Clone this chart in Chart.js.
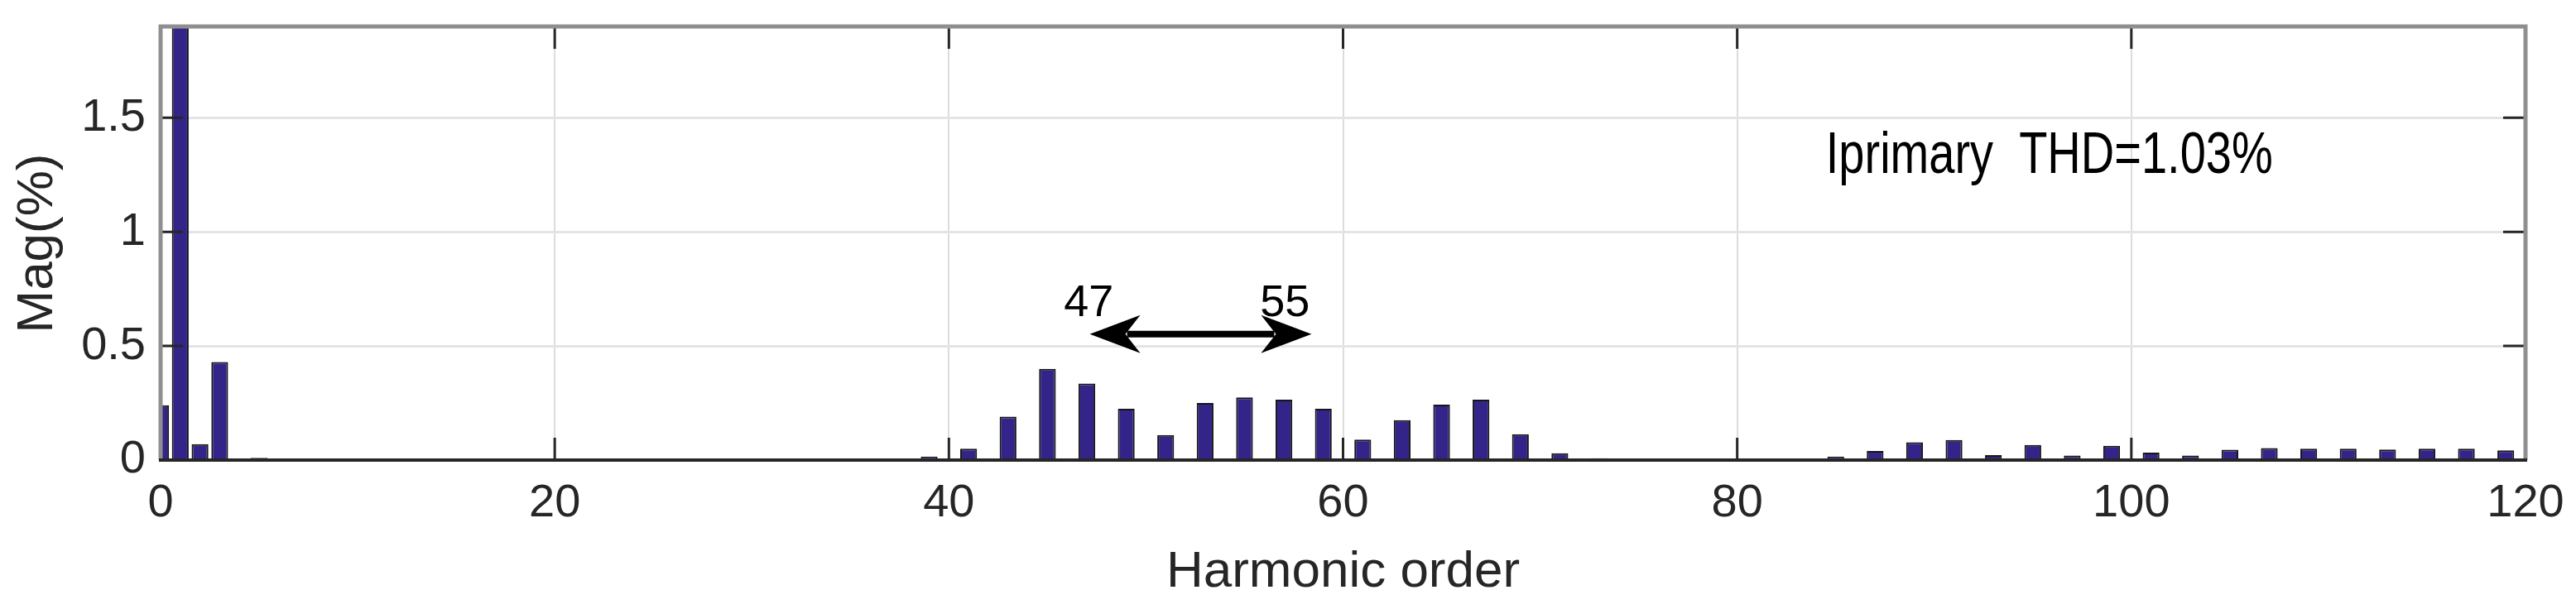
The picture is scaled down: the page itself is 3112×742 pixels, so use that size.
<!DOCTYPE html>
<html>
<head>
<meta charset="utf-8">
<script src="https://cdn.jsdelivr.net/npm/chart.js@4.4.1/dist/chart.umd.min.js"></script>
<style>
  html, body { margin: 0; padding: 0; background: #fff; }
  #chart { display: block; }
</style>
</head>
<body>
<canvas id="chart" width="3112" height="742"></canvas>
<script>
// harmonic spectrum of the primary current, Mag in % of fundamental
const xTicks = [0, 20, 40, 60, 80, 100, 120];
const yTicks = [0, 0.5, 1, 1.5];
const yMax = 1.9;

// index = harmonic order (0 .. 120)
const magnitudes = [
  0.24, 100, 0.07, 0.43, 0.006, 0.01, 0.005, 0.003, 0.002, 0.003,
  0.002, 0.003, 0.001, 0.003, 0.001, 0.003, 0.001, 0.003, 0.001, 0.003,
  0.001, 0.003, 0.001, 0.003, 0.001, 0.003, 0.001, 0.003, 0.001, 0.003,
  0.001, 0.003, 0.001, 0.003, 0.001, 0.003, 0.001, 0.003, 0.001, 0.015,
  0.002, 0.05, 0.001, 0.19, 0.001, 0.40, 0.001, 0.335, 0.001, 0.225,
  0.001, 0.11, 0.001, 0.25, 0.001, 0.275, 0.001, 0.265, 0.001, 0.225,
  0.001, 0.09, 0.001, 0.175, 0.001, 0.243, 0.001, 0.265, 0.001, 0.113,
  0.001, 0.03, 0.001, 0.008, 0.001, 0.003, 0.001, 0.003, 0.001, 0.003,
  0.001, 0.003, 0.001, 0.006, 0.001, 0.015, 0.001, 0.04, 0.001, 0.078,
  0.001, 0.088, 0.001, 0.022, 0.001, 0.066, 0.001, 0.02, 0.001, 0.063,
  0.001, 0.033, 0.001, 0.02, 0.001, 0.045, 0.001, 0.053, 0.001, 0.05,
  0.001, 0.05, 0.001, 0.046, 0.001, 0.05, 0.001, 0.05, 0.001, 0.043,
  0.001
];

const spanLabels = ["47", "55"];
const thdLabel = "Iprimary  THD=1.03%";

// annotation placement, in data units
const ARROW = { x0: 47.15, x1: 58.4, y: 0.552 };
const SPAN_TEXT = { x: [47.1, 57.05], y: 0.632 };
const THD_TEXT = { x: 84.5, y: 1.26 };

const FONT = "'Liberation Sans', Arial, Helvetica, sans-serif";
const INK = "#262626";
const TICK = 27;

const frame = {
  id: "frame",
  afterDatasetsDraw(chart) {
    const { ctx, chartArea: a, scales: { x, y } } = chart;
    ctx.save();
    ctx.lineCap = "butt";

    // inward ticks on all four sides
    ctx.strokeStyle = INK;
    ctx.lineWidth = 3;
    ctx.beginPath();
    xTicks.forEach((v) => {
      const px = x.getPixelForValue(v);
      ctx.moveTo(px, a.bottom); ctx.lineTo(px, a.bottom - TICK);
      ctx.moveTo(px, a.top); ctx.lineTo(px, a.top + TICK);
    });
    yTicks.forEach((v) => {
      const py = y.getPixelForValue(v);
      ctx.moveTo(a.left, py); ctx.lineTo(a.left + TICK, py);
      ctx.moveTo(a.right, py); ctx.lineTo(a.right - TICK, py);
    });
    ctx.stroke();

    // box
    ctx.lineWidth = 5;
    ctx.strokeStyle = "#8f8f8f";
    ctx.beginPath();
    ctx.moveTo(a.left, a.bottom); ctx.lineTo(a.left, a.top);
    ctx.lineTo(a.right, a.top); ctx.lineTo(a.right, a.bottom);
    ctx.stroke();
    ctx.strokeStyle = INK;
    ctx.lineWidth = 4;
    ctx.beginPath();
    ctx.moveTo(a.left - 2, a.bottom); ctx.lineTo(a.right + 2, a.bottom);
    ctx.stroke();
    ctx.restore();
  },
};

function arrowHead(ctx, tipX, tipY, dir) {
  const len = 61, half = 23, notch = 43;
  ctx.beginPath();
  ctx.moveTo(tipX, tipY);
  ctx.lineTo(tipX + dir * len, tipY - half);
  ctx.lineTo(tipX + dir * notch, tipY);
  ctx.lineTo(tipX + dir * len, tipY + half);
  ctx.closePath();
  ctx.fill();
}

const notes = {
  id: "notes",
  afterDraw(chart) {
    const { ctx, scales: { x, y } } = chart;
    ctx.save();
    ctx.fillStyle = "#000";
    ctx.strokeStyle = "#000";

    const ax0 = x.getPixelForValue(ARROW.x0);
    const ax1 = x.getPixelForValue(ARROW.x1);
    const ay = y.getPixelForValue(ARROW.y);
    ctx.lineWidth = 8;
    ctx.beginPath();
    ctx.moveTo(ax0 + 45, ay); ctx.lineTo(ax1 - 45, ay);
    ctx.stroke();
    arrowHead(ctx, ax0, ay, 1);
    arrowHead(ctx, ax1, ay, -1);

    ctx.font = `54px ${FONT}`;
    ctx.textAlign = "center";
    ctx.textBaseline = "alphabetic";
    spanLabels.forEach((t, i) => {
      ctx.fillText(t, x.getPixelForValue(SPAN_TEXT.x[i]), y.getPixelForValue(SPAN_TEXT.y));
    });

    // the THD note is set in a condensed face in the original
    ctx.font = `70px ${FONT}`;
    ctx.textAlign = "left";
    ctx.translate(x.getPixelForValue(THD_TEXT.x), y.getPixelForValue(THD_TEXT.y));
    ctx.scale(0.8, 1);
    ctx.fillText(thdLabel, 0, 0);
    ctx.restore();
  },
};

new Chart(document.getElementById("chart"), {
  type: "bar",
  data: {
    datasets: [{
      data: magnitudes.map((m, h) => ({ x: h, y: m })),
      backgroundColor: "#33248a",
      borderColor: "#161616",
      borderWidth: 2,
      barPercentage: 0.85,
      categoryPercentage: 1,
    }],
  },
  options: {
    responsive: false,
    animation: false,
    devicePixelRatio: 1,
    layout: { padding: { left: 0, right: 61, top: 32, bottom: 13 } },
    plugins: { legend: { display: false }, tooltip: { enabled: false } },
    scales: {
      x: {
        type: "linear",
        min: xTicks[0],
        max: xTicks[xTicks.length - 1],
        offset: false,
        afterFit: (s) => { s.height = 173; s.paddingLeft = 0; s.paddingRight = 0; },
        grid: { color: "#dcdcdc", lineWidth: 2, drawTicks: false, offset: false },
        border: { display: false },
        ticks: {
          stepSize: xTicks[1] - xTicks[0],
          autoSkip: false,
          color: INK,
          font: { family: FONT, size: 56 },
          padding: 19,
          maxRotation: 0,
          callback: (v) => String(v),
        },
        title: {
          display: true,
          text: "Harmonic order",
          color: INK,
          font: { family: FONT, size: 62 },
          padding: { top: 0, bottom: 0 },
        },
      },
      y: {
        min: yTicks[0],
        max: yMax,
        afterFit: (s) => { s.width = 194; s.paddingTop = 0; s.paddingBottom = 0; },
        grid: { color: "#e4e4e4", lineWidth: 3, drawTicks: false },
        border: { display: false },
        ticks: {
          stepSize: yTicks[1] - yTicks[0],
          includeBounds: false,
          autoSkip: false,
          color: INK,
          font: { family: FONT, size: 56 },
          padding: 18,
          callback: (v) => String(v),
        },
        title: {
          display: true,
          text: "Mag(%)",
          color: INK,
          font: { family: FONT, size: 62 },
          padding: { top: 9, bottom: 0 },
        },
      },
    },
  },
  plugins: [frame, notes],
});
</script>
</body>
</html>
